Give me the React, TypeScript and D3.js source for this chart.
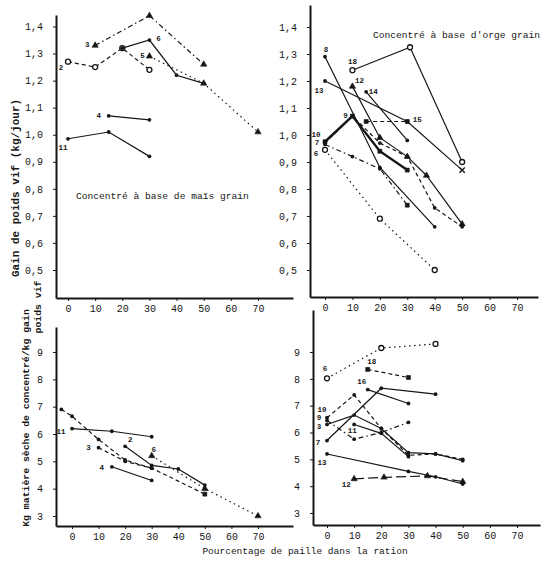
import React, { useEffect, useRef } from "react";
import * as d3 from "d3";

type Pt = [number, number];
type Series = { id: string; pts: Pt[] };
type Style = { dash: string; mark: string; last?: string; lab: [number, number]; at?: number; w?: number; text?: string };

const pctTicks = [0, 10, 20, 30, 40, 50, 60, 70];
const gainTicks = [0.5, 0.6, 0.7, 0.8, 0.9, 1.0, 1.1, 1.2, 1.3, 1.4];
const ratioTicks = [3, 4, 5, 6, 7, 8, 9];

// gain de poids vif (kg/jour), concentré maïs
const maisGain: Series[] = [
  { id: "2", pts: [[0, 1.27], [10, 1.25], [20, 1.32], [30, 1.24]] },
  { id: "3", pts: [[10, 1.33], [30, 1.44], [50, 1.26]] },
  { id: "6", pts: [[20, 1.32], [30, 1.35], [40, 1.22], [50, 1.19]] },
  { id: "5", pts: [[30, 1.29], [50, 1.19], [70, 1.01]] },
  { id: "4", pts: [[15, 1.07], [30, 1.055]] },
  { id: "11", pts: [[0, 0.985], [15, 1.01], [30, 0.92]] },
];

// gain de poids vif, concentré orge
const orgeGain: Series[] = [
  { id: "8", pts: [[0, 1.29], [20, 0.88], [40, 0.66]] },
  { id: "18", pts: [[10, 1.24], [31, 1.325], [50, 0.9]] },
  { id: "13", pts: [[0, 1.2], [30, 1.05], [50, 0.87]] },
  { id: "12", pts: [[10, 1.18], [20, 0.99], [30, 0.92], [37, 0.85], [50, 0.67]] },
  { id: "14", pts: [[15, 1.16], [30, 0.98]] },
  { id: "15", pts: [[15, 1.05], [30, 1.05]] },
  { id: "9", pts: [[0, 0.975], [10, 1.07], [20, 0.94], [30, 0.87]] },
  { id: "10", pts: [[0, 0.97], [10, 1.07], [20, 0.97], [30, 0.92], [40, 0.73], [50, 0.66]] },
  { id: "7", pts: [[0, 0.965], [10, 0.92], [20, 0.875], [30, 0.74]] },
  { id: "6", pts: [[0, 0.945], [20, 0.69], [40, 0.5]] },
];

// kg MS concentré / kg gain, maïs
const maisRatio: Series[] = [
  { id: "11", pts: [[0, 6.2], [15, 6.1], [30, 5.9]] },
  { id: "a", pts: [[-4, 6.9], [0, 6.65], [10, 5.8], [20, 5.05], [30, 4.75]] },
  { id: "3", pts: [[10, 5.5], [20, 5.0], [30, 4.75], [50, 3.8]] },
  { id: "2", pts: [[20, 5.55], [30, 4.85], [40, 4.72], [50, 4.13]] },
  { id: "6", pts: [[30, 5.2], [50, 4.0], [70, 3.0]] },
  { id: "4", pts: [[15, 4.8], [30, 4.3]] },
];

// kg MS concentré / kg gain, orge
const orgeRatio: Series[] = [
  { id: "6", pts: [[0, 8.02], [20, 9.15], [40, 9.3]] },
  { id: "18", pts: [[15, 8.35], [30, 8.05]] },
  { id: "16", pts: [[15, 7.6], [30, 7.08]] },
  { id: "7", pts: [[0, 5.7], [20, 7.65], [40, 7.43]] },
  { id: "10", pts: [[0, 6.55], [10, 7.4], [20, 6.15], [30, 5.15], [40, 5.2], [50, 5.0]] },
  { id: "3", pts: [[0, 6.3], [10, 6.65], [20, 6.15], [30, 5.25], [40, 5.2], [50, 4.95]] },
  { id: "9", pts: [[0, 6.45], [10, 5.75], [20, 6.0], [30, 6.38]] },
  { id: "11", pts: [[10, 6.3], [20, 5.97], [30, 5.1]] },
  { id: "13", pts: [[0, 5.2], [30, 4.55], [40, 4.35], [50, 4.08]] },
  { id: "12", pts: [[10, 4.27], [21, 4.33], [37, 4.38], [50, 4.17]] },
];

const DASH = "4,3";
const DOT = "1.5,3.5";
const DASHDOT = "5,3,1.5,3";
const mono = "'Liberation Mono', 'DejaVu Sans Mono', monospace";
const ink = "#161616";

const tlStyle: Record<string, Style> = {
  "2": { dash: DASH, mark: "circle", lab: [-7, 6] },
  "3": { dash: DASHDOT, mark: "tri", lab: [-8, 0] },
  "6": { dash: "", mark: "dot", lab: [9, -1], at: 1 },
  "5": { dash: DOT, mark: "tri", lab: [-7, 0] },
  "4": { dash: "", mark: "dot", lab: [-10, 0] },
  "11": { dash: "", mark: "dot", lab: [-5, 9] },
};
const trStyle: Record<string, Style> = {
  "8": { dash: "", mark: "dot", lab: [1, -7] },
  "18": { dash: "", mark: "circle", lab: [0, -8] },
  "13": { dash: "", mark: "dot", last: "x", lab: [-6, 10] },
  "12": { dash: "", mark: "tri", lab: [7, -5] },
  "14": { dash: "", mark: "dot", lab: [7, 0] },
  "15": { dash: DASH, mark: "square", lab: [10, -2], at: 1 },
  "9": { dash: "", mark: "square", lab: [-7, 0], at: 1, w: 2.4 },
  "10": { dash: DASH, mark: "dot", lab: [-9, -8] },
  "7": { dash: DASHDOT, mark: "dot", last: "square", lab: [-8, -1] },
  "6": { dash: DOT, mark: "circle", lab: [-9, 4] },
};
const blStyle: Record<string, Style> = {
  "11": { dash: "", mark: "dot", lab: [-11, 3] },
  a: { dash: DASH, mark: "dot", lab: [0, 0], text: "" },
  "3": { dash: DASH, mark: "dot", last: "square", lab: [-10, 0] },
  "2": { dash: "", mark: "dot", lab: [5, -6] },
  "6": { dash: DOT, mark: "tri", lab: [2, -6] },
  "4": { dash: "", mark: "dot", lab: [-10, 1] },
};
const brStyle: Record<string, Style> = {
  "6": { dash: DOT, mark: "circle", lab: [-2, -9] },
  "18": { dash: DASH, mark: "square", lab: [4, -7] },
  "16": { dash: "", mark: "dot", lab: [-6, -8] },
  "7": { dash: "", mark: "dot", lab: [-9, 2] },
  "10": { dash: DASH, mark: "dot", lab: [-5, -8] },
  "3": { dash: "", mark: "dot", lab: [-8, 3] },
  "9": { dash: DASHDOT, mark: "dot", lab: [-8, -2] },
  "11": { dash: "", mark: "dot", lab: [-2, 7] },
  "13": { dash: "", mark: "dot", lab: [-5, 9] },
  "12": { dash: "10,4", mark: "tri", lab: [-8, 6] },
};

// linear scale calibrated on two tick positions, extended to the axis ends
const cal = (v0: number, p0: number, v1: number, p1: number, a: number, b: number) => {
  const s = d3.scaleLinear().domain([v0, v1]).range([p0, p1]);
  return d3.scaleLinear().domain([s.invert(a), s.invert(b)]).range([a, b]);
};

const comma = (d: number) => d.toFixed(1).replace(".", ",");

const Axis = ({ scale, orient, transform, ticks, format }: any) => {
  const ref = useRef<SVGGElement>(null);
  useEffect(() => {
    const gen = orient === "bottom" ? d3.axisBottom(scale) : d3.axisLeft(scale);
    gen.tickValues(ticks).tickSizeInner(3).tickSizeOuter(0).tickPadding(orient === "bottom" ? 4 : 10);
    if (format) gen.tickFormat(format);
    const g = d3.select(ref.current!).call(gen as any);
    g.attr("font-family", mono).attr("font-size", 10);
    g.select(".domain").attr("stroke", ink).attr("stroke-width", 2);
    g.selectAll(".tick line").attr("stroke", ink);
    g.selectAll(".tick text").attr("fill", ink);
  }, [scale, orient]);
  return <g ref={ref} transform={transform} />;
};

const Marker = ({ kind, x, y }: { kind: string; x: number; y: number }) => {
  if (kind === "circle")
    return <circle cx={x} cy={y} r={2.5} fill="#fff" stroke={ink} strokeWidth={1.3} />;
  if (kind === "dot") return <circle cx={x} cy={y} r={1.9} fill={ink} />;
  const type = kind === "tri" ? d3.symbolTriangle : kind === "square" ? d3.symbolSquare : d3.symbolX;
  const size = kind === "tri" ? 17 : kind === "square" ? 16 : 20;
  const d = d3.symbol().type(type).size(size)()!;
  const stroke = kind === "x";
  return (
    <path
      d={d}
      transform={`translate(${x},${y})`}
      fill={stroke ? "none" : ink}
      stroke={ink}
      strokeWidth={stroke ? 1.4 : 0.6}
    />
  );
};

const Panel = ({ x, y, yTicks, yFmt, series, styles }: any) => {
  const line = d3
    .line<Pt>()
    .x((d) => x(d[0]))
    .y((d) => y(d[1]));
  return (
    <g>
      <Axis scale={y} orient="left" ticks={yTicks} format={yFmt} transform={`translate(${x.range()[0]},0)`} />
      <Axis scale={x} orient="bottom" ticks={pctTicks} transform={`translate(0,${y.range()[0]})`} />
      {series.map((s: Series) => {
        const st: Style = styles[s.id];
        return (
          <path
            key={"l" + s.id}
            d={line(s.pts)!}
            fill="none"
            stroke={ink}
            strokeWidth={st.w ?? 1.2}
            strokeDasharray={st.dash || undefined}
          />
        );
      })}
      {series.map((s: Series) => {
        const st: Style = styles[s.id];
        return s.pts.map((p, i) => (
          <Marker
            key={s.id + "m" + i}
            kind={i === s.pts.length - 1 && st.last ? st.last : st.mark}
            x={x(p[0])}
            y={y(p[1])}
          />
        ));
      })}
      {series.map((s: Series) => {
        const st: Style = styles[s.id];
        const p = s.pts[st.at ?? 0];
        return (
          <text
            key={"t" + s.id}
            x={x(p[0]) + st.lab[0]}
            y={y(p[1]) + st.lab[1]}
            textAnchor="middle"
            dominantBaseline="central"
            fontFamily={mono}
            fontSize={7.5}
            fontWeight="bold"
            fill={ink}
          >
            {st.text ?? s.id}
          </text>
        );
      })}
    </g>
  );
};

export default function App() {
  const xTL = cal(0, 68, 70, 258, 56, 293);
  const yTL = cal(0.5, 270, 1.4, 26.5, 298, 15);
  const xTR = cal(0, 325, 70, 517, 310, 538);
  const yTR = cal(0.5, 270, 1.4, 27, 297, 5);
  const xBL = cal(0, 72, 70, 258, 56, 293);
  const yBL = cal(3, 516, 9, 352, 526, 327);
  const xBR = cal(0, 327, 70, 517, 313, 540);
  const yBR = cal(3, 513, 9, 352, 525, 310);

  return (
    <svg width={550} height={561} style={{ position: "absolute", left: 0, top: 0, background: "#fff" }}>
      <Panel x={xTL} y={yTL} yTicks={gainTicks} yFmt={comma} series={maisGain} styles={tlStyle} />
      <Panel x={xTR} y={yTR} yTicks={gainTicks} yFmt={comma} series={orgeGain} styles={trStyle} />
      <Panel x={xBL} y={yBL} yTicks={ratioTicks} series={maisRatio} styles={blStyle} />
      <Panel x={xBR} y={yBR} yTicks={ratioTicks} series={orgeRatio} styles={brStyle} />

      <g fontFamily={mono} fill={ink}>
        <text x={76} y={196} fontSize={9.6} dominantBaseline="central">
          Concentré à base de maïs grain
        </text>
        <text x={373} y={35} fontSize={9.6} dominantBaseline="central">
          Concentré à base d'orge grain
        </text>
        <text
          transform="translate(16,188) rotate(-90)"
          textAnchor="middle"
          dominantBaseline="central"
          fontSize={11}
          fontWeight="bold"
        >
          Gain de poids vif (kg/jour)
        </text>
        <text
          transform="translate(26,418) rotate(-90)"
          textAnchor="middle"
          dominantBaseline="central"
          fontSize={9.8}
          fontWeight="bold"
        >
          Kg matière sèche de concentré/kg gain
        </text>
        <text
          transform="translate(38,307) rotate(-90)"
          textAnchor="middle"
          dominantBaseline="central"
          fontSize={9.8}
          fontWeight="bold"
        >
          poids vif
        </text>
        <text x={305} y={551} textAnchor="middle" dominantBaseline="central" fontSize={9.5}>
          Pourcentage de paille dans la ration
        </text>
      </g>
    </svg>
  );
}
